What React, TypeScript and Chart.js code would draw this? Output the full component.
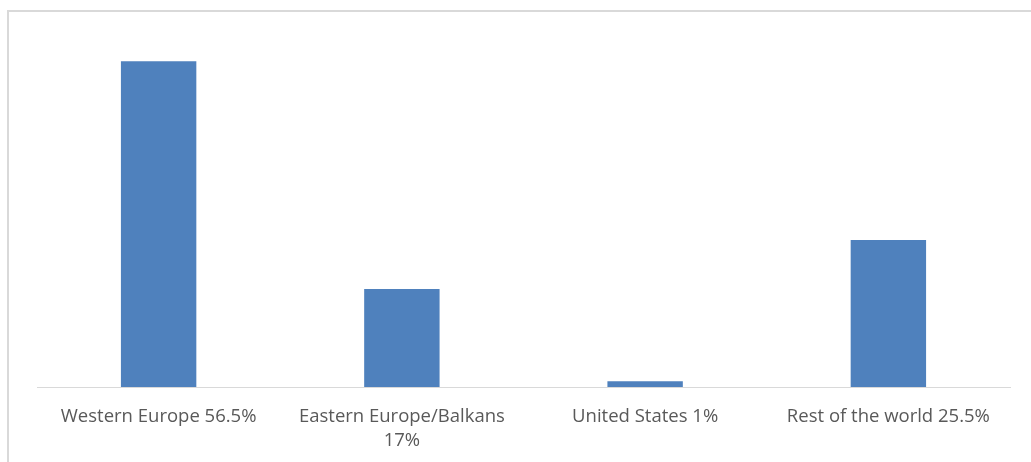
import React, { useEffect, useRef } from "react";
import { Chart, registerables } from "chart.js";

Chart.register(...registerables);

const categories: (string | string[])[] = [
  "Western Europe 56.5%",
  ["Eastern Europe/Balkans", "17%"],
  "United States 1%",
  "Rest of the world 25.5%",
];
const shares: number[] = [56.5, 17, 1, 25.5];
const yMin = 0;
const yMax = 60;

export default function App() {
  const ref = useRef<HTMLCanvasElement | null>(null);

  useEffect(() => {
    const canvas = ref.current;
    if (!canvas) return;
    const chart = new Chart(canvas, {
      type: "bar",
      data: {
        labels: categories,
        datasets: [
          {
            data: shares,
            backgroundColor: "#4f81bd",
            borderWidth: 0,
            categoryPercentage: 1,
            barPercentage: 0.31,
          },
        ],
      },
      options: {
        responsive: false,
        animation: false,
        layout: { padding: { left: 37, right: 21, top: 41, bottom: 0 } },
        plugins: {
          legend: { display: false },
          tooltip: { enabled: false },
        },
        scales: {
          x: {
            grid: { display: false, drawTicks: false },
            border: { display: true, color: "#d9d9d9", width: 1 },
            ticks: {
              color: "#595959",
              padding: 18,
              maxRotation: 0,
              autoSkip: false,
              font: { family: "'Open Sans', sans-serif", size: 18.5, lineHeight: 1.27 },
            },
            afterFit: (scale: any) => {
              scale.height = 75;
            },
          },
          y: {
            display: false,
            min: yMin,
            max: yMax,
          },
        },
      },
    });
    return () => chart.destroy();
  }, []);

  return (
    <div style={{ position: "fixed", left: 0, top: 0, width: 1031, height: 462, overflow: "hidden", background: "#fff" }}>
      <div
        style={{
          position: "absolute",
          left: 7,
          top: 10,
          width: 1040,
          height: 470,
          border: "2px solid #d9d9d9",
          boxSizing: "border-box",
        }}
      />
      <canvas ref={ref} width={1031} height={462} style={{ position: "absolute", left: 0, top: 0 }} />
    </div>
  );
}
